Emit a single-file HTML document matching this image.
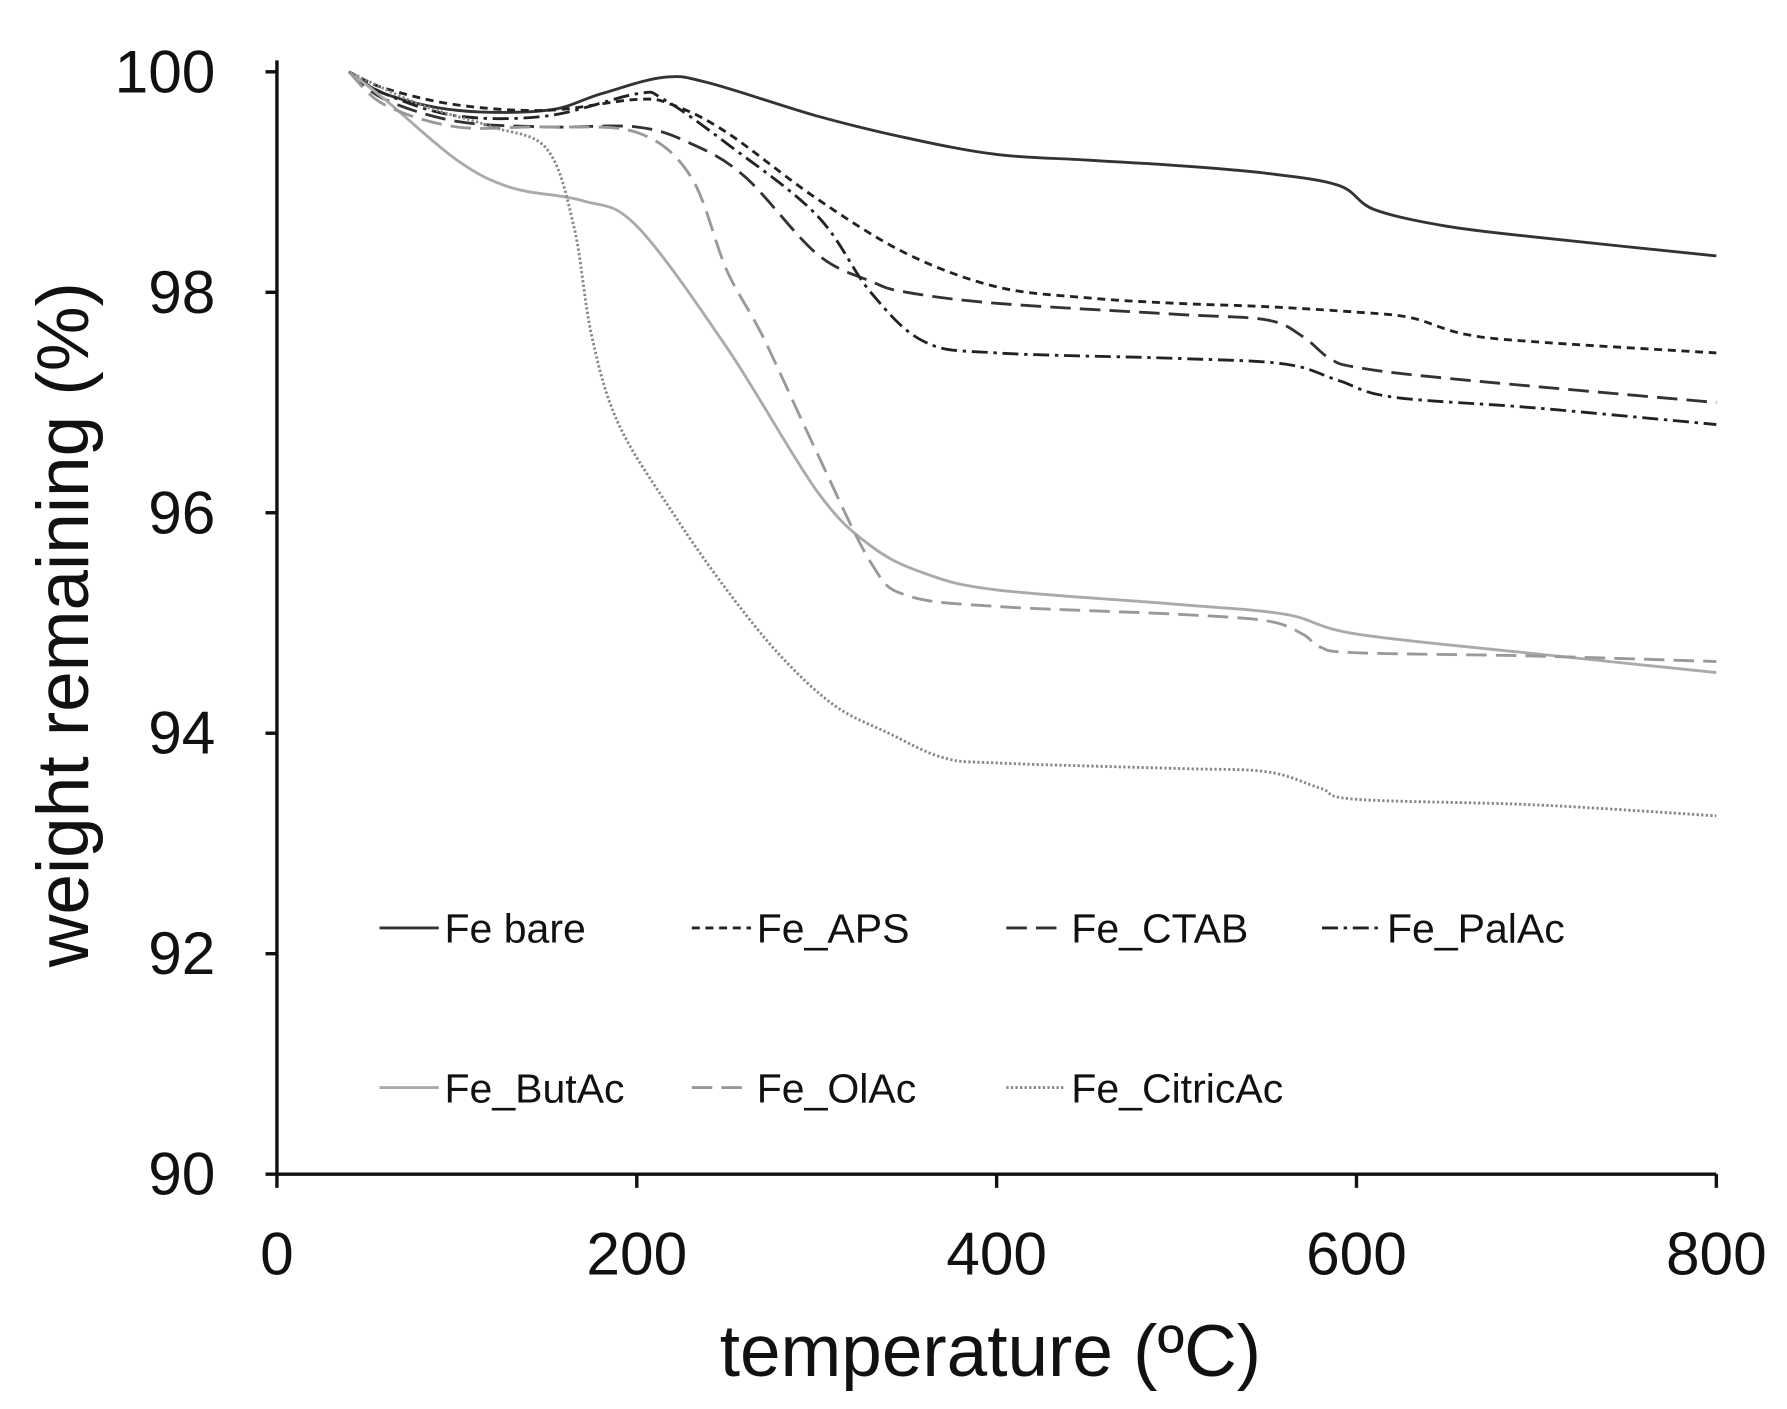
<!DOCTYPE html>
<html><head><meta charset="utf-8"><style>
html,body{margin:0;padding:0;background:#fff;}
svg{display:block;}
text{font-family:"Liberation Sans",Arial,sans-serif;fill:#111;}
</style></head><body>
<svg id="chart" width="1787" height="1409" viewBox="0 0 1568 1236" preserveAspectRatio="none" xmlns="http://www.w3.org/2000/svg"></svg>
<script>
const xTicks=[0,200,400,600,800];
const yTicks=[90,92,94,96,98,100];
const seriesNames=["Fe bare","Fe_APS","Fe_CTAB","Fe_PalAc","Fe_ButAc","Fe_OlAc","Fe_CitricAc"];
const bareT=[40,60,100,150,180,215,240,300,350,400,450,500,550,590,610,650,700,800];
const bareW=[100,99.8,99.65,99.65,99.8,99.95,99.9,99.6,99.4,99.25,99.2,99.15,99.08,98.97,98.75,98.6,98.5,98.33];
const apsT=[40,60,100,150,200,220,250,300,350,400,450,500,550,600,630,660,700,800];
const apsW=[100,99.85,99.7,99.65,99.75,99.7,99.45,98.85,98.35,98.05,97.95,97.9,97.87,97.82,97.77,97.62,97.55,97.45];
const ctabT=[40,60,100,150,200,230,260,300,330,350,400,500,550,570,585,600,650,800];
const ctabW=[100,99.75,99.55,99.5,99.5,99.35,99.05,98.35,98.1,98.0,97.9,97.8,97.75,97.6,97.4,97.32,97.22,97.0];
const palT=[40,60,100,150,200,215,250,300,330,360,400,500,560,590,620,700,800];
const palW=[100,99.8,99.6,99.6,99.8,99.75,99.35,98.7,98.0,97.55,97.45,97.4,97.35,97.2,97.05,96.95,96.8];
const butT=[40,60,100,130,170,200,250,300,330,360,400,500,560,600,700,800];
const butW=[100,99.75,99.2,98.95,98.83,98.6,97.5,96.2,95.7,95.45,95.3,95.17,95.08,94.9,94.72,94.55];
const olT=[40,60,100,150,200,230,250,270,300,330,350,400,500,550,570,580,600,700,800];
const olW=[100,99.7,99.5,99.5,99.45,99.05,98.2,97.6,96.55,95.55,95.25,95.15,95.08,95.02,94.9,94.78,94.73,94.7,94.65];
const citT=[40,80,120,150,165,175,190,220,250,280,310,340,370,400,500,550,580,600,700,800];
const citW=[100,99.7,99.5,99.3,98.6,97.6,96.8,96.0,95.3,94.7,94.25,94.0,93.78,93.73,93.68,93.65,93.5,93.4,93.35,93.25];

const NS="http://www.w3.org/2000/svg";
const svg=document.getElementById('chart');
const X0=243,X1=1506,Y0=1030,Y1=63;
const xs=t=>X0+(t-0)/(800-0)*(X1-X0);
const ys=w=>Y0-(w-90)/(100-90)*(Y0-Y1);
function mk(tag,attrs,parent){const e=document.createElementNS(NS,tag);for(const k in attrs)e.setAttribute(k,attrs[k]);(parent||svg).appendChild(e);return e;}
function smoothPath(P){
  let d='M'+P[0][0].toFixed(1)+','+P[0][1].toFixed(1);
  for(let i=0;i<P.length-1;i++){
    const p0=P[i-1]||P[i],p1=P[i],p2=P[i+1],p3=P[i+2]||P[i+1];
    const k=0.5/3;
    const c1=[p1[0]+(p2[0]-p0[0])*k,p1[1]+(p2[1]-p0[1])*k];
    const c2=[p2[0]-(p3[0]-p1[0])*k,p2[1]-(p3[1]-p1[1])*k];
    d+=' C'+c1[0].toFixed(1)+','+c1[1].toFixed(1)+' '+c2[0].toFixed(1)+','+c2[1].toFixed(1)+' '+p2[0].toFixed(1)+','+p2[1].toFixed(1);
  }
  return d;
}

const ax=mk('line',{x1:X0,y1:Y1-10,x2:X0,y2:Y0,stroke:'#111','stroke-width':3});


const bx=mk('line',{x1:X0,y1:Y0,x2:X1,y2:Y0,stroke:'#111','stroke-width':3});


yTicks.forEach(v=>{
  const tk=mk('line',{x1:X0-10,y1:ys(v),x2:X0,y2:ys(v),stroke:'#111','stroke-width':3});
  
  
  const t=mk('text',{x:X0-54,y:ys(v)+18,'text-anchor':'end','font-size':53});
  t.textContent=v;
  
  
});
xTicks.forEach(v=>{
  const tk=mk('line',{x1:xs(v),y1:Y0,x2:xs(v),y2:Y0+12,stroke:'#111','stroke-width':3});
  
  
  const t=mk('text',{x:xs(v),y:Y0+88,'text-anchor':'middle','font-size':53});
  t.textContent=v;
  
  
});
const xt=mk('text',{x:869,y:1207,'text-anchor':'middle','font-size':64});
xt.textContent='temperature (ºC)';


const yt=mk('text',{x:0,y:0,'text-anchor':'middle','font-size':64,transform:'translate(77,548) rotate(-90)'});
yt.textContent='weight remaining (%)';



const styles=[
 {c:'#333',d:'',w:2.5},
 {c:'#222',d:'7,5',w:2.5},
 {c:'#333',d:'18,8',w:2.5},
 {c:'#222',d:'14,5,3,5',w:2.5},
 {c:'#aaa',d:'',w:2.5},
 {c:'#999',d:'18,8',w:2.5},
 {c:'#888',d:'2,2',w:2.5}
];
const data=[[bareT,bareW],[apsT,apsW],[ctabT,ctabW],[palT,palW],[butT,butW],[olT,olW],[citT,citW]];
const slugs=['fe-bare','fe-aps','fe-ctab','fe-palac','fe-butac','fe-olac','fe-citricac'];
data.forEach((d,i)=>{
  const P=d[0].map((t,j)=>[xs(t),ys(d[1][j])]);
  const s=styles[i];
  const p=mk('path',{d:smoothPath(P),fill:'none',stroke:s.c,'stroke-width':s.w,'stroke-dasharray':s.d,'stroke-linejoin':'round'});
  
  
});
const lx=[333,607,883,1160],ly=[814,954];
seriesNames.forEach((n,i)=>{
  const x=lx[i%4],y=ly[Math.floor(i/4)];
  const s=styles[i];
  const g=mk('g',{});
  
  
  mk('line',{x1:x,y1:y,x2:x+52,y2:y,stroke:s.c,'stroke-width':s.w,'stroke-dasharray':s.d},g);
  const t=mk('text',{x:x+57,y:y+13,'font-size':36},g);
  t.textContent=n;
});
</script>
</body></html>
